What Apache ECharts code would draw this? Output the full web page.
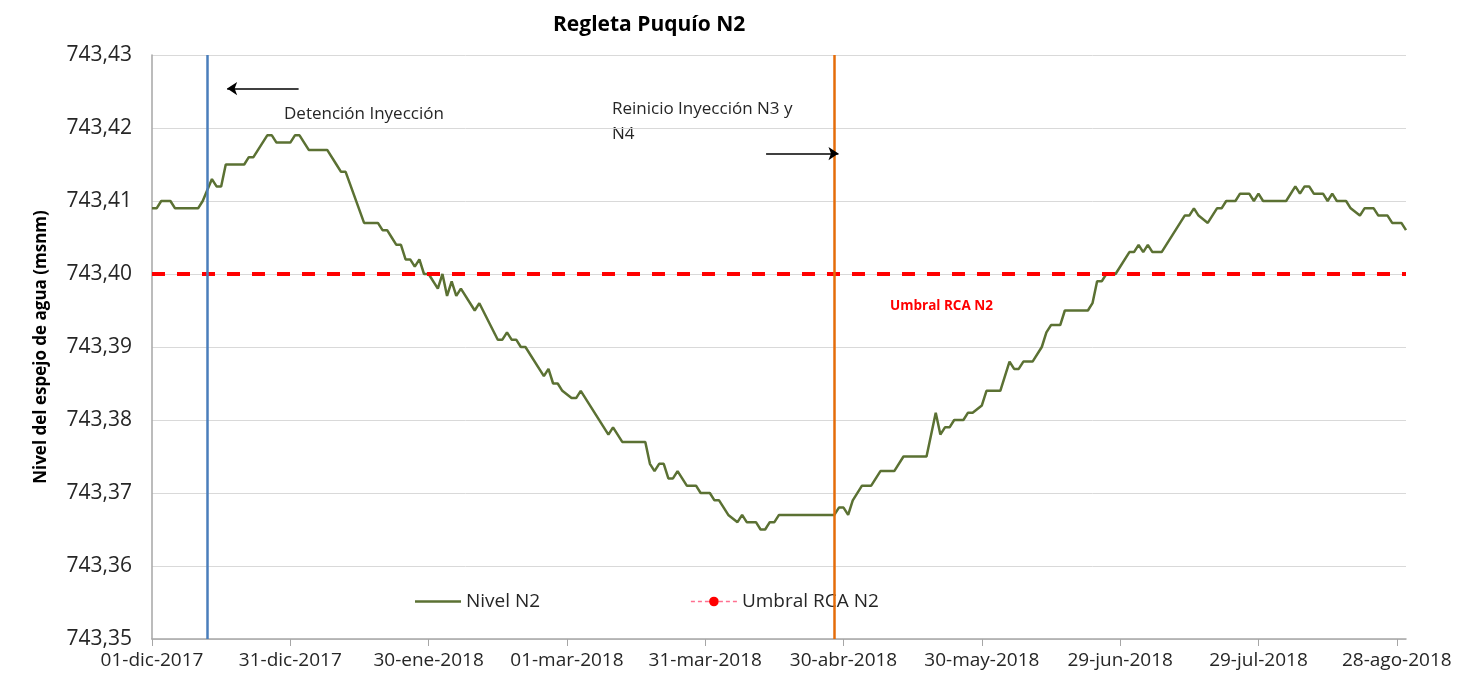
<!DOCTYPE html>
<html>
<head>
<meta charset="utf-8">
<title>Regleta Puquío N2</title>
<script src="https://cdn.jsdelivr.net/npm/echarts@6/dist/echarts.min.js"></script>
<style>
  html, body { margin: 0; padding: 0; background: #ffffff; }
  #grafico { width: 1478px; height: 693px; }
</style>
</head>
<body>
<div id="grafico"></div>
<script>
// dias contados desde el 01-dic-2017
var dias = [
  0, 1, 2, 4, 5, 10, 11, 13, 14, 15, 16, 20, 21, 22, 23, 25, 26, 27, 30, 31,
  32, 34, 38, 40, 41, 42, 46, 49, 50, 51, 52, 53, 54, 55, 56, 57, 58, 59, 60, 62,
  63, 64, 65, 66, 67, 70, 71, 75, 76, 77, 78, 79, 80, 81, 85, 86, 87, 88, 89, 91,
  92, 93, 99, 100, 102, 107, 108, 109, 110, 111, 112, 113, 114, 116, 118, 119, 121, 122, 123, 124,
  125, 127, 128, 129, 131, 132, 133, 134, 135, 136, 148, 149, 150, 151, 152, 154, 156, 158, 161, 163,
  168, 170, 171, 172, 173, 174, 176, 177, 178, 180, 181, 184, 186, 187, 188, 189, 191, 193, 194, 195,
  197, 198, 203, 204, 205, 206, 207, 209, 212, 213, 214, 215, 216, 217, 219, 224, 225, 226, 227, 229,
  231, 232, 233, 235, 236, 238, 239, 240, 241, 246, 248, 249, 250, 251, 252, 254, 255, 256, 257, 259,
  260, 262, 263, 265, 266, 268, 269, 271, 272
];

var nivel = [
  743.409, 743.409, 743.410, 743.410, 743.409, 743.409, 743.410, 743.413, 743.412, 743.412, 743.415, 743.415, 743.416, 743.416, 743.417, 743.419, 743.419, 743.418, 743.418, 743.419,
  743.419, 743.417, 743.417, 743.415, 743.414, 743.414, 743.407, 743.407, 743.406, 743.406, 743.405, 743.404, 743.404, 743.402, 743.402, 743.401, 743.402, 743.400, 743.400, 743.398,
  743.400, 743.397, 743.399, 743.397, 743.398, 743.395, 743.396, 743.391, 743.391, 743.392, 743.391, 743.391, 743.390, 743.390, 743.386, 743.387, 743.385, 743.385, 743.384, 743.383,
  743.383, 743.384, 743.378, 743.379, 743.377, 743.377, 743.374, 743.373, 743.374, 743.374, 743.372, 743.372, 743.373, 743.371, 743.371, 743.370, 743.370, 743.369, 743.369, 743.368,
  743.367, 743.366, 743.367, 743.366, 743.366, 743.365, 743.365, 743.366, 743.366, 743.367, 743.367, 743.368, 743.368, 743.367, 743.369, 743.371, 743.371, 743.373, 743.373, 743.375,
  743.375, 743.381, 743.378, 743.379, 743.379, 743.380, 743.380, 743.381, 743.381, 743.382, 743.384, 743.384, 743.388, 743.387, 743.387, 743.388, 743.388, 743.390, 743.392, 743.393,
  743.393, 743.395, 743.395, 743.396, 743.399, 743.399, 743.400, 743.400, 743.403, 743.403, 743.404, 743.403, 743.404, 743.403, 743.403, 743.408, 743.408, 743.409, 743.408, 743.407,
  743.409, 743.409, 743.410, 743.410, 743.411, 743.411, 743.410, 743.411, 743.410, 743.410, 743.412, 743.411, 743.412, 743.412, 743.411, 743.411, 743.410, 743.411, 743.410, 743.410,
  743.409, 743.408, 743.409, 743.409, 743.408, 743.408, 743.407, 743.407, 743.406
];

// umbral RCA
var umbralDias = [0, 272];
var umbralValor = [743.40, 743.40];

// eventos: detencion (13-dic-2017) y reinicio de inyeccion (28-abr-2018)
var eventosDias = [12, 148];

// flechas de las anotaciones [dia inicio, dia fin, nivel]
var flechaDetencion = [31.8, 16.3, 743.4254];
var flechaReinicio = [133.2, 148.9, 743.4165];

// etiquetas del eje x
var etiquetasDias = [0, 30, 60, 90, 120, 150, 180, 210, 240, 270];
var etiquetasX = ['01-dic-2017', '31-dic-2017', '30-ene-2018', '01-mar-2018', '31-mar-2018',
                  '30-abr-2018', '30-may-2018', '29-jun-2018', '29-jul-2018', '28-ago-2018'];

var fuente = 'Open Sans';

var chart = echarts.init(document.getElementById('grafico'));

var option = {
  animation: false,
  backgroundColor: '#ffffff',
  title: {
    text: 'Regleta Puquío N2',
    left: 548,
    top: 10,
    textStyle: { fontFamily: fuente, fontSize: 21, fontWeight: 'bold', color: '#000000' }
  },
  legend: {
    left: 410,
    top: 587,
    itemGap: 150,
    itemWidth: 46,
    itemHeight: 12,
    textStyle: { fontFamily: fuente, fontSize: 19, color: '#262626' },
    data: [
      { name: 'Nivel N2', icon: 'path://M0,0H46V2.5H0Z' },
      { name: 'Umbral RCA N2', lineStyle: { width: 1.5, type: [4, 3], color: '#ff7090' } }
    ]
  },
  grid: {
    left: 152,
    right: 72,
    top: 55,
    bottom: 54
  },
  xAxis: {
    type: 'value',
    min: 0,
    max: 272,
    interval: 30,
    splitLine: { show: false },
    axisLine: { show: true, lineStyle: { color: '#a6a6a6', width: 1.5 } },
    axisTick: { show: true, length: 7, customValues: etiquetasDias, lineStyle: { color: '#a6a6a6' } },
    axisLabel: {
      customValues: etiquetasDias,
      fontFamily: fuente,
      fontSize: 19,
      color: '#262626',
      margin: 12,
      formatter: function (v) {
        var i = etiquetasDias.indexOf(v);
        return i >= 0 ? etiquetasX[i] : '';
      }
    }
  },
  yAxis: {
    type: 'value',
    min: 743.35,
    max: 743.43,
    interval: 0.01,
    name: 'Nivel del espejo de agua (msnm)',
    nameLocation: 'middle',
    nameGap: 102,
    nameTextStyle: { fontFamily: fuente, fontSize: 17, fontWeight: 'bold', color: '#000000' },
    axisLine: { show: true, lineStyle: { color: '#a6a6a6', width: 1.5 } },
    axisTick: { show: false },
    splitLine: { lineStyle: { color: '#d9d9d9', width: 1 } },
    axisLabel: {
      fontFamily: fuente,
      fontSize: 21,
      color: '#262626',
      margin: 20,
      formatter: function (v) { return v.toFixed(2).replace('.', ','); }
    }
  },
  graphic: [
    {
      type: 'text', x: 284, y: 114,
      style: { text: 'Detención Inyección', fontFamily: fuente, fontSize: 17, fill: '#262626', verticalAlign: 'middle' }
    },
    {
      type: 'text', x: 612, y: 97,
      style: { text: 'Reinicio Inyección N3 y\nN4', fontFamily: fuente, fontSize: 17, lineHeight: 25, fill: '#262626', verticalAlign: 'top' }
    },
    {
      type: 'text', x: 890, y: 306,
      style: { text: 'Umbral RCA N2', fontFamily: fuente, fontSize: 13.5, fontWeight: 'bold', fill: '#ff0000', verticalAlign: 'middle' }
    }
  ],
  series: [
    {
      name: 'Nivel N2',
      type: 'line',
      symbol: 'none',
      color: '#5b7133',
      lineStyle: { width: 2.5, color: '#5b7133' },
      data: dias.map(function (d, i) { return [d, nivel[i]]; }),
      z: 3
    },
    {
      name: 'Umbral RCA N2',
      type: 'line',
      symbol: 'circle',
      symbolSize: 6,
      showSymbol: false,
      color: '#ff0000',
      lineStyle: { width: 4, type: [13, 12], color: '#ff0000' },
      data: umbralDias.map(function (d, i) { return [d, umbralValor[i]]; }),
      z: 4
    },
    {
      name: 'eventos',
      type: 'line',
      data: [],
      markLine: {
        silent: true,
        animation: false,
        symbol: ['none', 'none'],
        label: { show: false },
        data: [
          { xAxis: eventosDias[0], lineStyle: { color: '#4a7ebb', width: 2.5, type: 'solid' } },
          { xAxis: eventosDias[1], lineStyle: { color: '#e46c0a', width: 2.5, type: 'solid' } },
          [
            { coord: [flechaDetencion[0], flechaDetencion[2]], symbol: 'none', lineStyle: { color: '#000000', width: 1.5, type: 'solid' } },
            { coord: [flechaDetencion[1], flechaDetencion[2]], symbol: 'arrow', symbolSize: 10 }
          ],
          [
            { coord: [flechaReinicio[0], flechaReinicio[2]], symbol: 'none', lineStyle: { color: '#000000', width: 1.5, type: 'solid' } },
            { coord: [flechaReinicio[1], flechaReinicio[2]], symbol: 'arrow', symbolSize: 10 }
          ]
        ]
      }
    }
  ]
};

chart.setOption(option);
</script>
</body>
</html>
